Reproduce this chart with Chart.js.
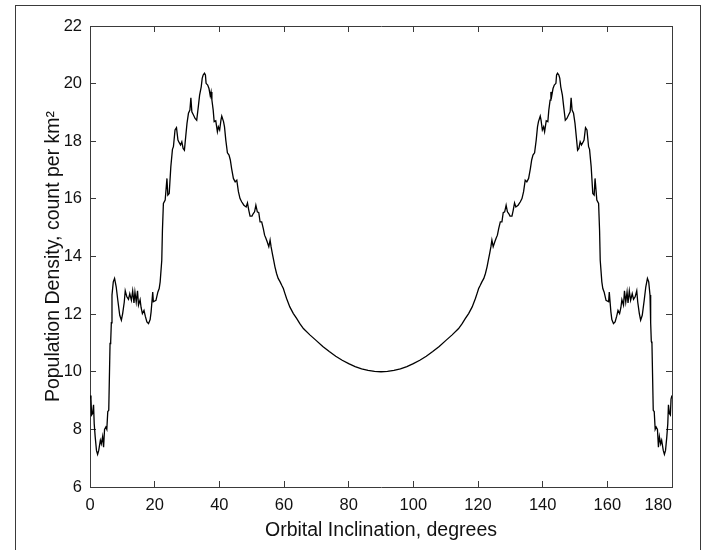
<!DOCTYPE html>
<html>
<head>
<meta charset="utf-8">
<script src="https://cdn.jsdelivr.net/npm/chart.js@4.4.1/dist/chart.umd.min.js"></script>
<style>
    html, body { margin: 0; padding: 0; background: #fff; }
    #wrap { position: relative; width: 706px; height: 550px; overflow: hidden; }
    #frame { position: absolute; left: 15px; top: 5px; width: 684px; height: 600px; border: 1.5px solid #3a3a3a; }
    #densityChart { position: absolute; left: 0; top: 0; }
</style>
</head>
<body>
<div id="wrap">
    <div id="frame"></div>
    <canvas id="densityChart" width="706" height="550"></canvas>
</div>
<script>
// ------------------- Data -------------------
const inclination = [
    0, 0.3, 0.5, 0.8, 1.1, 1.3, 1.6, 2.0, 2.35, 2.7,
    3.2, 3.5, 3.9, 4.2, 4.5, 4.9, 5.2, 5.5, 5.8, 6.2,
    6.4, 6.6, 6.8, 7.2, 7.6, 8.1, 8.6, 9.2, 9.7, 10.1,
    10.6, 10.9, 11.4, 11.9, 12.3, 12.8, 13.2, 13.6, 13.9, 14.3,
    14.7, 15.0, 15.5, 15.8, 16.2, 16.7, 17.1, 17.6, 18.1, 18.6,
    18.9, 19.4, 19.6, 20.4, 21.0, 21.4, 21.7, 22.2, 22.4, 22.7,
    23.25, 23.8, 24.07, 24.5, 25.0, 25.5, 25.8, 26.3, 26.75, 27.2,
    27.6, 28.0, 28.4, 28.8, 29.2, 29.6, 30.0, 30.45, 30.9, 31.2,
    31.5, 32.0, 32.5, 33.0, 33.5, 33.9, 34.4, 34.7, 35.0, 35.4,
    35.7, 35.9, 36.4, 36.8, 37.2, 37.45, 37.7, 38.1, 38.4, 38.9,
    39.4, 39.7, 40.1, 40.5, 40.75, 41.3, 41.6, 42.0, 42.5, 43.0,
    43.4, 43.8, 44.35, 44.9, 45.4, 45.9, 46.4, 46.9, 47.6, 48.3,
    48.7, 49.1, 49.5, 50.1, 50.5, 50.9, 51.3, 51.75, 52.2, 52.6,
    53.1, 53.6, 54.0, 54.4, 54.8, 55.3, 55.7, 56.0, 56.4, 56.8,
    57.2, 57.7, 58.2, 58.8, 59.3, 59.8, 60.3, 60.8, 61.8, 62.9,
    63.9, 64.9, 66, 68, 70, 72, 74, 76, 78, 80,
    82, 84, 86, 88, 90,
    92, 94, 96, 98, 100, 102, 104, 106, 108, 110,
    112, 114, 115.1, 116.1, 117.1, 118.2, 119.2, 119.7, 120.2, 120.7,
    121.2, 121.8, 122.3, 122.8, 123.2, 123.6, 124.0, 124.3, 124.7, 125.2,
    125.6, 126.0, 126.4, 126.9, 127.4, 127.8, 128.25, 128.7, 129.1, 129.5,
    129.9, 130.5, 130.9, 131.3, 131.7, 132.4, 133.1, 133.6, 134.1, 134.6,
    135.1, 135.65, 136.2, 136.6, 137.0, 137.5, 138.0, 138.4, 138.7, 139.25,
    139.5, 139.9, 140.3, 140.6, 141.1, 141.6, 141.9, 142.3, 142.55, 142.8,
    143.2, 143.6, 144.1, 144.3, 144.6, 145.0, 145.3, 145.6, 146.1, 146.5,
    147.0, 147.5, 148.0, 148.5, 148.8, 149.1, 149.55, 150.0, 150.4, 150.8,
    151.2, 151.6, 152.0, 152.4, 152.8, 153.25, 153.7, 154.2, 154.5, 155.0,
    155.5, 155.93, 156.2, 156.75, 157.3, 157.6, 157.8, 158.3, 158.6, 159.0,
    159.6, 160.4, 160.6, 161.1, 161.4, 161.9, 162.4, 162.9, 163.3, 163.8,
    164.2, 164.5, 165.0, 165.3, 165.7, 166.1, 166.4, 166.8, 167.2, 167.7,
    168.1, 168.6, 169.1, 169.4, 169.9, 170.3, 170.8, 171.4, 171.9, 172.4,
    172.8, 173.2, 173.4, 173.6, 173.8, 174.2, 174.5, 174.8, 175.1, 175.5,
    175.8, 176.1, 176.5, 176.8, 177.3, 177.65, 178.0, 178.4, 178.7, 178.9,
    179.2, 179.5, 179.7, 180
];

const density = [
    9.18, 9.05, 8.5, 8.55, 8.85, 8.2, 7.75, 7.27, 7.13, 7.27,
    7.62, 7.5, 7.75, 7.38, 8.0, 8.08, 8.0, 8.62, 8.66, 10.98,
    11.05, 11.7, 12.66, 13.12, 13.24, 12.95, 12.48, 11.96, 11.79, 12.02,
    12.42, 12.81, 12.6, 12.51, 12.71, 12.48, 12.81, 12.39, 12.77, 12.42,
    12.81, 12.31, 12.5, 12.23, 12.02, 12.13, 11.93, 11.73, 11.67, 11.81,
    12.08, 12.77, 12.43, 12.48, 12.77, 12.89, 13.12, 13.87, 14.9, 15.84,
    15.96, 16.71, 16.13, 16.19, 17.12, 17.72, 17.81, 18.39, 18.47, 18.04,
    17.95, 17.87, 17.98, 17.75, 17.69, 18.16, 18.62, 18.97, 19.08, 19.51,
    19.02, 18.91, 18.79, 18.73, 19.2, 19.6, 19.89, 20.18, 20.3, 20.36,
    20.3, 20.01, 19.95, 19.83, 19.57, 19.71, 19.43, 19.08, 18.68, 18.71,
    18.33, 18.5, 18.39, 18.73, 18.87, 18.68, 18.5, 18.04, 17.6, 17.52,
    17.35, 17.05, 16.71, 16.59, 16.65, 16.25, 16.01, 15.9, 15.78, 15.72,
    15.86, 15.61, 15.4, 15.4, 15.49, 15.55, 15.78, 15.55, 15.52, 15.2,
    15.2, 14.97, 14.74, 14.63, 14.51, 14.34, 14.57, 14.34, 14.1, 13.87,
    13.64, 13.41, 13.24, 13.12, 13.0, 12.89, 12.71, 12.54, 12.25, 12.02,
    11.85, 11.67, 11.5, 11.28, 11.08, 10.88, 10.7, 10.54, 10.4, 10.28,
    10.18, 10.1, 10.05, 10.01, 10.0,
    10.01, 10.05, 10.1, 10.18, 10.28, 10.4, 10.54, 10.7, 10.88, 11.08,
    11.28, 11.5, 11.67, 11.85, 12.02, 12.25, 12.54, 12.71, 12.89, 13.0,
    13.12, 13.24, 13.41, 13.64, 13.87, 14.1, 14.34, 14.57, 14.34, 14.51,
    14.63, 14.74, 14.97, 15.2, 15.2, 15.52, 15.55, 15.78, 15.55, 15.49,
    15.4, 15.4, 15.61, 15.86, 15.72, 15.78, 15.9, 16.01, 16.25, 16.65,
    16.59, 16.71, 17.05, 17.35, 17.52, 17.6, 18.04, 18.5, 18.68, 18.87,
    18.73, 18.39, 18.5, 18.33, 18.71, 18.68, 19.08, 19.43, 19.71, 19.57,
    19.83, 19.95, 20.01, 20.3, 20.36, 20.3, 20.18, 19.89, 19.6, 19.2,
    18.73, 18.79, 18.91, 19.02, 19.51, 19.08, 18.97, 18.62, 18.16, 17.69,
    17.75, 17.98, 17.87, 17.95, 18.04, 18.47, 18.39, 17.81, 17.72, 17.12,
    16.19, 16.13, 16.71, 15.96, 15.84, 14.9, 13.87, 13.12, 12.89, 12.77,
    12.48, 12.43, 12.77, 12.08, 11.81, 11.67, 11.73, 11.93, 12.13, 12.02,
    12.23, 12.5, 12.31, 12.81, 12.42, 12.77, 12.39, 12.81, 12.48, 12.71,
    12.51, 12.6, 12.81, 12.42, 12.02, 11.79, 11.96, 12.48, 12.95, 13.24,
    13.12, 12.66, 11.7, 11.05, 10.98, 8.66, 8.62, 8.0, 8.08, 8.0,
    7.38, 7.75, 7.5, 7.62, 7.27, 7.13, 7.27, 7.75, 8.2, 8.85,
    8.55, 8.5, 9.05, 9.18
];

const xTickValues = [0, 20, 40, 60, 80, 100, 120, 140, 160, 180];
const yTickValues = [6, 8, 10, 12, 14, 16, 18, 20, 22];

const xTitle = 'Orbital Inclination, degrees';
const yTitle = 'Population Density, count per km\u00B2';

// ------------------- Styling -------------------
const axisColor = '#3a3a3a';
const textColor = '#111';
const fontFamily = '"Liberation Sans", Arial, Helvetica, sans-serif';

const points = inclination.map((x, i) => ({ x: x, y: density[i] }));

// inward ticks on every side, like a boxed MATLAB axes
const boxGrid = { drawOnChartArea: false, drawTicks: true, tickLength: -6, color: axisColor, lineWidth: 1 };
const boxBorder = { display: true, color: axisColor, width: 1 };

function setTicks(values) {
    return scale => { scale.ticks = values.map(v => ({ value: v })); };
}

new Chart(document.getElementById('densityChart'), {
    type: 'line',
    data: {
        datasets: [{
            data: points,
            borderColor: '#000',
            borderWidth: 1.3,
            pointRadius: 0,
            tension: 0,
            fill: false
        }]
    },
    options: {
        responsive: false,
        animation: false,
        devicePixelRatio: 1,
        layout: { padding: { left: 42, right: 34, top: 26, bottom: 8 } },
        plugins: { legend: { display: false }, tooltip: { enabled: false } },
        scales: {
            x: {
                type: 'linear', position: 'bottom', min: 0, max: 180,
                afterBuildTicks: setTicks(xTickValues),
                // fixed band height; label overhang must not squeeze the plot
                afterFit: s => { s.height = 55; s.paddingLeft = 0; s.paddingRight = 0; },
                grid: boxGrid, border: boxBorder,
                ticks: {
                    color: textColor, padding: 15, maxRotation: 0,
                    font: { family: fontFamily, size: 16.5 },
                    // the reference pulls its last label in from the corner
                    callback: v => v === 180 ? '180      ' : String(v)
                },
                title: { display: true, text: xTitle, color: textColor, padding: 0, font: { family: fontFamily, size: 19.5 } }
            },
            x2: {
                type: 'linear', position: 'top', min: 0, max: 180,
                afterBuildTicks: setTicks(xTickValues),
                afterFit: s => { s.height = 0; },
                grid: boxGrid, border: boxBorder,
                ticks: { display: false }
            },
            y: {
                type: 'linear', position: 'left', min: 6, max: 22,
                afterBuildTicks: setTicks(yTickValues),
                afterFit: s => { s.width = 48; },
                grid: boxGrid, border: boxBorder,
                ticks: { color: textColor, padding: 14, font: { family: fontFamily, size: 16.5 } },
                title: { display: true, text: yTitle, color: textColor, padding: 0, font: { family: fontFamily, size: 19.5 } }
            },
            y2: {
                type: 'linear', position: 'right', min: 6, max: 22,
                afterBuildTicks: setTicks(yTickValues),
                afterFit: s => { s.width = 0; },
                grid: boxGrid, border: boxBorder,
                ticks: { display: false }
            }
        }
    }
});
</script>
</body>
</html>
